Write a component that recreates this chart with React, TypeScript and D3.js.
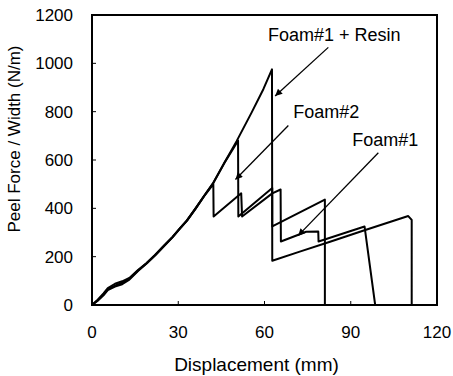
import * as d3 from "d3";

// displacement (mm), peel force / width (N/m)
const foam1Resin: [number, number][] = [
  [0, 0], [2, 22], [4, 48], [5.5, 70], [8, 88], [10.5, 98], [13, 112], [16, 145],
  [19, 174], [22, 208], [25, 245], [28, 282], [30.6, 318], [33, 350], [36, 400],
  [39, 452], [42, 502], [46, 588], [50.3, 678], [55.5, 796], [59.6, 893], [62.6, 975],
  [62.7, 183], [72, 220], [82.8, 262], [94, 306], [110, 368], [111.2, 352], [111.2, 0],
];

const foam2: [number, number][] = [
  [0, 0], [2, 20], [4, 44], [5.5, 66], [8, 80], [10.5, 92], [13, 108], [16, 143],
  [19, 173], [22, 207], [25, 244], [28, 281], [30.6, 317], [33, 349], [36, 399],
  [39, 451], [42, 501], [46, 587], [50.8, 680], [50.9, 366], [62.7, 484],
  [62.7, 325], [81, 436], [81, 0],
];

const foam1: [number, number][] = [
  [0, 0], [2, 18], [4, 40], [5.5, 62], [8, 76], [10.5, 86], [13, 105], [16, 141],
  [19, 172], [22, 206], [25, 243], [28, 280], [30.6, 316], [33, 348], [36, 398],
  [39, 450], [42.2, 500], [42.3, 366], [51.9, 462], [52.2, 366], [62.7, 462],
  [65.6, 478], [65.7, 263], [74.5, 303], [78.7, 304], [78.8, 263], [94.8, 325],
  [98.5, 0],
];

const xTicks = [0, 30, 60, 90, 120];
const yTicks = [0, 200, 400, 600, 800, 1000, 1200];

// label text, text anchor (mm, N/m), arrow start and arrow tip (mm, N/m)
const notes = [
  { text: "Foam#1 + Resin", at: [61.2, 1093], from: [82.2, 1066], to: [63.7, 865] },
  { text: "Foam#2", at: [70, 772], from: [68.3, 743], to: [49.9, 519] },
  { text: "Foam#1", at: [90.5, 657], from: [99.6, 630], to: [71.7, 287] },
];

const width = 453;
const height = 376;
const margin = { top: 15, right: 16, bottom: 71, left: 92 };
const font = "'Liberation Sans', Arial, Helvetica, sans-serif";

export default function App() {
  const w = width - margin.left - margin.right;
  const h = height - margin.top - margin.bottom;
  const x = d3.scaleLinear().domain([0, 120]).range([0, w]);
  const y = d3.scaleLinear().domain([0, 1200]).range([h, 0]);
  const line = d3
    .line<[number, number]>()
    .x((d) => x(d[0]))
    .y((d) => y(d[1]));

  return (
    <svg
      width={width}
      height={height}
      style={{ position: "fixed", left: 0, top: 0, background: "#fff" }}
      fontFamily={font}
    >
      <defs>
        <marker
          id="head"
          viewBox="0 0 10 10"
          refX="10"
          refY="5"
          markerWidth="9"
          markerHeight="7"
          markerUnits="userSpaceOnUse"
          orient="auto"
        >
          <path d="M0,0 L10,5 L0,10 z" fill="#000" />
        </marker>
      </defs>
      <g transform={`translate(${margin.left},${margin.top})`}>
        {[foam1Resin, foam2, foam1].map((s, i) => (
          <path
            key={i}
            d={line(s) ?? ""}
            fill="none"
            stroke="#000"
            strokeWidth={2}
            strokeLinejoin="round"
          />
        ))}

        {xTicks.map((t) => (
          <g key={"x" + t}>
            <line x1={x(t)} x2={x(t)} y1={h} y2={h - 4} stroke="#000" strokeWidth={1} />
            <text x={x(t)} y={h + 33} fontSize={17} textAnchor="middle" fill="#000">
              {t}
            </text>
          </g>
        ))}
        {yTicks.map((t) => (
          <g key={"y" + t}>
            <line x1={0} x2={4} y1={y(t)} y2={y(t)} stroke="#000" strokeWidth={1} />
            <text x={-19} y={y(t) + 6} fontSize={17} textAnchor="end" fill="#000">
              {t}
            </text>
          </g>
        ))}

        <rect x={0} y={0} width={w} height={h} fill="none" stroke="#000" strokeWidth={2} />

        {notes.map((n) => (
          <g key={n.text}>
            <line
              x1={x(n.from[0])}
              y1={y(n.from[1])}
              x2={x(n.to[0])}
              y2={y(n.to[1])}
              stroke="#000"
              strokeWidth={1.3}
              markerEnd="url(#head)"
            />
            <text x={x(n.at[0])} y={y(n.at[1])} fontSize={18} fill="#000">
              {n.text}
            </text>
          </g>
        ))}

        <text x={w / 2 - 8} y={h + 66} fontSize={19} textAnchor="middle" fill="#000">
          Displacement (mm)
        </text>
      </g>
      <text
        transform="translate(20,139) rotate(-90)"
        fontSize={17}
        textAnchor="middle"
        fill="#000"
      >
        Peel Force / Width (N/m)
      </text>
    </svg>
  );
}
